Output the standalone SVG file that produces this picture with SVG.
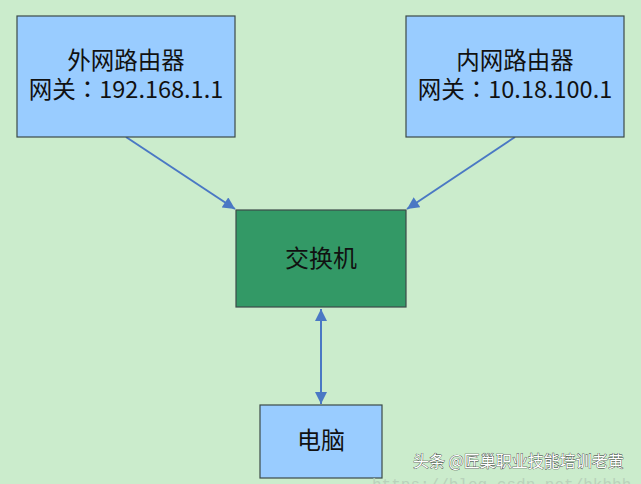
<svg xmlns="http://www.w3.org/2000/svg" width="641" height="484" viewBox="0 0 641 484">
<defs>
<style>
.box{stroke:#3c4a48;stroke-width:1.2}
.blue{fill:#99ccff}
.green{fill:#339966}
.t{font-family:"Noto Sans CJK TC","Noto Sans CJK SC","Noto Sans",sans-serif;font-size:24px;fill:#111;text-anchor:middle}
.t2{font-size:23.5px}
.conn{stroke:#4a78c4;stroke-width:2;fill:none}
.wm{font-family:"Noto Sans CJK SC",sans-serif;font-size:16px;fill:#fff;stroke:#333;stroke-width:0.7;paint-order:stroke}
.url{font-family:"Liberation Mono","DejaVu Sans Mono",monospace;font-size:16px;fill:#b9d2bb}
</style>
<marker id="ah" viewBox="0 0 10 10" refX="10" refY="5" markerWidth="6.5" markerHeight="6" orient="auto-start-reverse" markerUnits="strokeWidth">
<path d="M0,0 L10,5 L0,10 z" fill="#4a78c4"/>
</marker>
</defs>
<rect width="641" height="484" fill="#cbeccc"/>
<g id="connectors">
<line class="conn" x1="126" y1="137" x2="235" y2="209" marker-end="url(#ah)"/>
<line class="conn" x1="515" y1="137" x2="407" y2="209" marker-end="url(#ah)"/>
<line class="conn" x1="321" y1="309" x2="321" y2="404" marker-start="url(#ah)" marker-end="url(#ah)"/>
</g>
<g id="outer-router">
<rect class="box blue" x="17" y="16" width="218" height="121"/>
<text class="t t2" x="126" y="69">外网路由器</text>
<text class="t t2" x="126" y="98">网关：192.168.1.1</text>
</g>
<g id="inner-router">
<rect class="box blue" x="406" y="16" width="218" height="121"/>
<text class="t t2" x="515" y="69">内网路由器</text>
<text class="t t2" x="515" y="98">网关：10.18.100.1</text>
</g>
<g id="switch">
<rect class="box green" x="236" y="210" width="170" height="97"/>
<text class="t" x="321" y="267">交换机</text>
</g>
<g id="pc">
<rect class="box blue" x="260" y="405" width="122" height="73"/>
<text class="t" x="321" y="449">电脑</text>
</g>
<text class="url" x="372" y="490">https://blog.csdn.net/hkhbh</text>
<text class="wm" x="413" y="467">头条 @匠巢职业技能培训老黄</text>
</svg>
